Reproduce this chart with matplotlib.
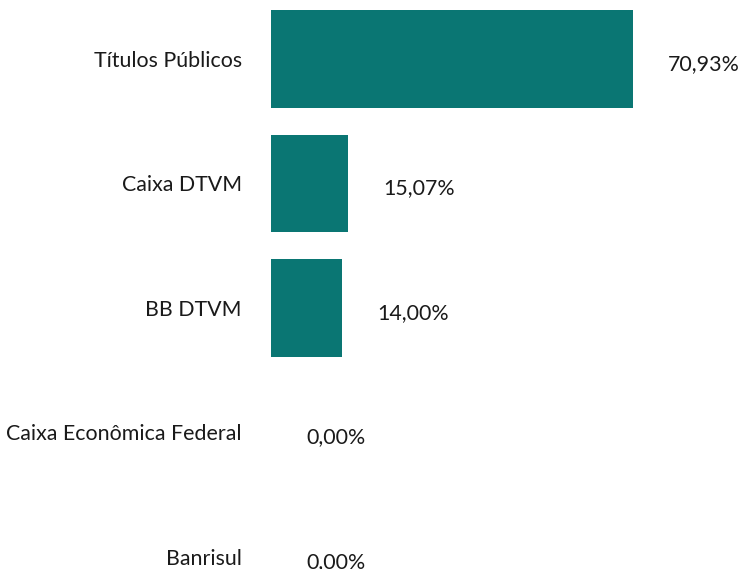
import matplotlib
matplotlib.use("Agg")
import matplotlib.pyplot as plt

categories = ["Títulos Públicos", "Caixa DTVM", "BB DTVM", "Caixa Econômica Federal", "Banrisul"]
values = [70.93, 15.07, 14.00, 0.00, 0.00]
labels = ["70,93%", "15,07%", "14,00%", "0,00%", "0,00%"]

plt.rcParams['font.family'] = ['Lato', 'DejaVu Sans']

fig = plt.figure(figsize=(7.42, 5.69), dpi=100)
ax = fig.add_axes([271/742, 0, 1 - 271/742, 1])

ypos = list(range(len(categories)))
ax.barh(ypos, values, height=0.787, color="#0A7673")

ax.set_xlim(0, 471/5.1)
ax.set_ylim((569-59)/124.5, -59/124.5)

ax.set_yticks(ypos)
ax.set_yticklabels(categories, fontsize=15.4, color="#1a1a1a")
ax.tick_params(axis='y', length=0, pad=21)
ax.set_xticks([])
for s in ax.spines.values():
    s.set_visible(False)

for y, v, lab in zip(ypos, values, labels):
    ax.annotate(lab, xy=(v, y), xytext=(25.2, -3.6), textcoords="offset points",
                ha="left", va="center", fontsize=15.4, color="#1a1a1a",
                annotation_clip=False)

fig.savefig("out.png", dpi=100)
